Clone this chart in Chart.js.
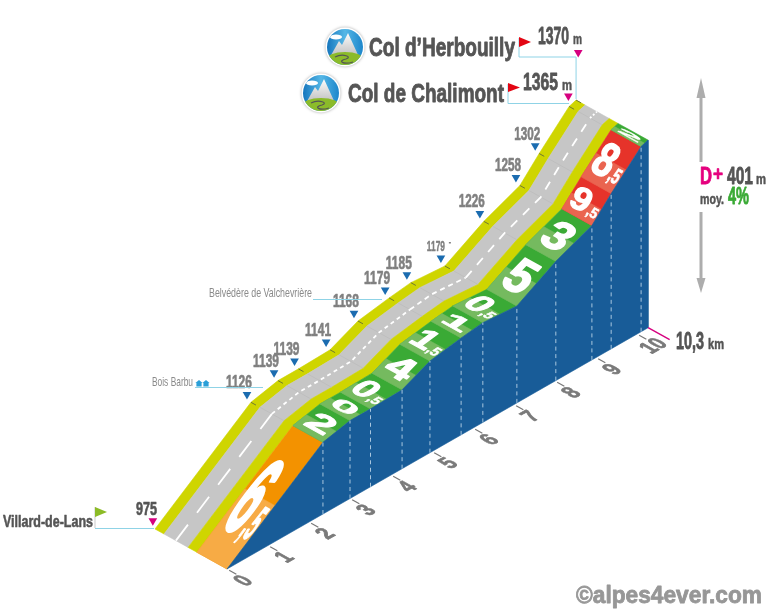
<!DOCTYPE html>
<html>
<head>
<meta charset="utf-8">
<script src="https://cdn.jsdelivr.net/npm/chart.js@4"></script>
<style>
html, body { margin: 0; padding: 0; background: #fff; }
#wrap { width: 770px; height: 616px; }
</style>
</head>
<body>
<div id="wrap"><canvas id="grafica" width="770" height="616"></canvas></div>
<script>
// profile vertices
const kms = [0, 2.34, 3, 3.5, 4.27, 4.95, 5.71, 6.24, 7.07, 8.02, 8.9, 9.37, 10.1, 10.27];
const alts = [975, 1126, 1139, 1139, 1141, 1168, 1179, 1185, 1179, 1226, 1258, 1302, 1365, 1370];
// gradient painted on each stretch, between two vertices
const slopes = ['6,5', '2', '0', '0,5', '4', '1,5', '1', '0,5', '5', '3', '9,5', '8,5', '2'];
const slopeColors = ['orange', 'green', 'green', 'green', 'green', 'green', 'green', 'green', 'green', 'green', 'red', 'red', 'green'];
const kmTicks = [0, 1, 2, 3, 4, 5, 6, 7, 8, 9, 10];

const palette = {
    orange: ['#f39200', '#f7ab45'],
    green: ['#3aaa35', '#75ba5f'],
    red: ['#e6332a', '#ea6450']
};
const BASE = 975;

// oblique projection: one km goes right and up, depth goes left and up
const PX_KM = 41, PX_M = 0.475, RISE = 0.573, DEPTH_X = 72, DEPTH_Y = 40;
const ORIGIN_X = 227, ORIGIN_Y = 569;

function pt(km, alt, depth) {
    return {
        x: km - depth * DEPTH_X / PX_KM,
        y: alt + km * RISE * PX_KM / PX_M + depth * DEPTH_Y / PX_M
    };
}

function band(d1, d2, from, to) {
    const a = [], b = [];
    for (let i = from; i <= to; i++) {
        a.push(pt(kms[i], alts[i], d1));
        b.unshift(pt(kms[i], alts[i], d2));
    }
    return a.concat(b);
}

function poly(points, color) {
    return { data: points.concat([points[0]]), showLine: true, fill: 'shape', backgroundColor: color, borderColor: color, borderWidth: 0.6, pointRadius: 0, tension: 0 };
}

function stroke(points, color, width, dash) {
    return { data: points, showLine: true, fill: false, borderColor: color, borderWidth: width, borderDash: dash || [], pointRadius: 0, tension: 0 };
}

const sets = [];
const last = kms.length - 1;

// road surface
sets.push(poly(band(0.875, 1, 0, last), '#cfd500'));
sets.push(poly(band(0.54, 0.875, 0, last), '#c6c6c6'));
sets.push(poly(band(0.417, 0.54, 0, last), '#cfd500'));
kms.forEach((k, i) => {
    if (i > 0 && i < last) sets.push(stroke([pt(k, alts[i], 0.54), pt(k, alts[i], 0.875)], '#b9b9b9', 0.6));
    if (i > 0) sets.push(stroke([pt(k, alts[i], 0.93), pt(k, alts[i], 1)], '#6f7a30', 1));
});

// centre dashes change with the stretch
const centre = kms.map((k, i) => pt(k, alts[i], 0.71));
sets.push({
    data: centre, showLine: true, fill: false, borderColor: '#fff', borderWidth: 1.8, pointRadius: 0, tension: 0,
    segment: {
        borderDash: ctx => {
            const i = ctx.p0DataIndex;
            if (i === 0) return [20, 15];
            if (i < 6) return [4, 3.5];
            if (i === 6 || i === 7) return [5, 4];
            if (i === 12) return [2, 2];
            return [9, 8];
        }
    }
});

// gradient stretches, light first part then dark part
slopes.forEach((s, i) => {
    const [dark, light] = palette[slopeColors[i]];
    sets.push(poly(band(0, 0.417, i, i + 1), dark));
    const mk = (kms[i] + kms[i + 1]) / 2, ma = (alts[i] + alts[i + 1]) / 2;
    sets.push(poly([pt(kms[i], alts[i], 0), pt(mk, ma, 0), pt(mk, ma, 0.417), pt(kms[i], alts[i], 0.417)], light));
});

// front wall
const wallTop = kms.map((k, i) => pt(k, alts[i], 0));
sets.push(poly(wallTop.concat([pt(kms[last], BASE, 0), pt(0, BASE, 0)]), '#185c98'));
kms.forEach((k, i) => {
    if (i > 0 && i < last) sets.push(stroke([pt(k, BASE, 0), pt(k, alts[i], 0)], '#a8c6de', 1, [4, 3.5]));
});

// km ticks below the wall
kmTicks.forEach(k => sets.push(stroke([pt(k, BASE, -0.03), pt(k, BASE, -0.13)], '#777', 1.2)));
sets.push(stroke([pt(kms[last], BASE, 0), pt(kms[last], BASE, -0.3)], '#d6007f', 1.4));

// spot height markers
function marker(points, color) {
    return { data: points, showLine: false, pointStyle: 'triangle', rotation: 180, pointRadius: 5, pointBackgroundColor: color, pointBorderWidth: 0 };
}
sets.push(marker([1, 2, 3, 4, 5, 6, 7, 8, 9, 10, 11].map(i => pt(kms[i], alts[i] + 12, 1.055)), '#1b6cb0'));
sets.push(marker([pt(kms[0], alts[0] + 15, 1.03), pt(kms[12], alts[12] + 21, 1.01), pt(kms[13], alts[13] + 103, 0.97)], '#d6007f'));

// drawing order follows the push order
sets.forEach((s, i) => { s.order = sets.length - i; });

function put(ctx, str, x, base, size, width, color, weight) {
    ctx.save();
    ctx.font = (weight || 'bold') + ' ' + size + 'px "Liberation Sans Narrow", "Liberation Sans", sans-serif';
    ctx.textAlign = 'left';
    ctx.textBaseline = 'alphabetic';
    ctx.fillStyle = color;
    const w = ctx.measureText(str).width;
    ctx.translate(x, base);
    ctx.scale(width / w, 1);
    ctx.fillText(str, 0, 0);
    if (weight !== 'normal') {
        // the originals are drawn in a heavier face
        ctx.strokeStyle = color;
        ctx.lineWidth = size * 0.035;
        ctx.lineJoin = 'round';
        ctx.strokeText(str, 0, 0);
    }
    ctx.restore();
}

function tri(ctx, a, b, c, color) {
    ctx.fillStyle = color;
    ctx.beginPath();
    ctx.moveTo(a[0], a[1]);
    ctx.lineTo(b[0], b[1]);
    ctx.lineTo(c[0], c[1]);
    ctx.closePath();
    ctx.fill();
}

function seg(ctx, x1, y1, x2, y2, color, w) {
    ctx.strokeStyle = color;
    ctx.lineWidth = w;
    ctx.beginPath();
    ctx.moveTo(x1, y1);
    ctx.lineTo(x2, y2);
    ctx.stroke();
}

function colIcon(ctx, cx, cy) {
    ctx.save();
    ctx.fillStyle = '#fff';
    ctx.shadowColor = 'rgba(0,0,0,0.35)';
    ctx.shadowBlur = 3;
    ctx.beginPath();
    ctx.arc(cx, cy, 19.5, 0, Math.PI * 2);
    ctx.fill();
    ctx.shadowBlur = 0;
    ctx.beginPath();
    ctx.arc(cx, cy, 18, 0, Math.PI * 2);
    ctx.clip();
    const g = ctx.createLinearGradient(cx - 18, cy, cx + 18, cy);
    g.addColorStop(0, '#1676bd');
    g.addColorStop(0.5, '#55b7e6');
    g.addColorStop(1, '#1c86cb');
    ctx.fillStyle = g;
    ctx.fillRect(cx - 18, cy - 18, 36, 36);
    const m = ctx.createLinearGradient(0, cy - 15, 0, cy + 10);
    m.addColorStop(0, '#fff');
    m.addColorStop(1, '#bdbdbd');
    ctx.fillStyle = m;
    ctx.beginPath();
    ctx.moveTo(cx - 15, cy + 10);
    ctx.lineTo(cx - 6, cy - 6);
    ctx.lineTo(cx - 3, cy - 2);
    ctx.lineTo(cx + 3, cy - 14);
    ctx.lineTo(cx + 14, cy + 10);
    ctx.closePath();
    ctx.fill();
    ctx.fillStyle = '#fff';
    ctx.beginPath();
    ctx.ellipse(cx - 9, cy - 10, 6, 2.4, 0, 0, Math.PI * 2);
    ctx.fill();
    ctx.fillStyle = '#8bbb2a';
    ctx.beginPath();
    ctx.ellipse(cx, cy + 13, 19, 8, 0, 0, Math.PI * 2);
    ctx.fill();
    ctx.strokeStyle = '#555';
    ctx.lineWidth = 1.2;
    ctx.beginPath();
    ctx.moveTo(cx - 10, cy + 10);
    ctx.bezierCurveTo(cx - 2, cy + 6, cx + 8, cy + 10, cx + 1, cy + 12);
    ctx.bezierCurveTo(cx - 8, cy + 14, cx - 2, cy + 18, cx + 8, cy + 15);
    ctx.stroke();
    ctx.restore();
}

function house(ctx, x, y) {
    ctx.fillStyle = '#2a9fd8';
    ctx.fillRect(x - 2.6, y - 1, 5.2, 3.5);
    tri(ctx, [x - 3.6, y - 1], [x, y - 4], [x + 3.6, y - 1], '#2a9fd8');
}

const artwork = {
    id: 'artwork',
    afterDatasetsDraw(chart) {
        const ctx = chart.ctx;
        const px = p => [chart.scales.x.getPixelForValue(p.x), chart.scales.y.getPixelForValue(p.y)];
        const light = '#8fd3e6', ink = '#555555', spot = '#808080';

        // painted gradient numbers: they read across the band, their tops point up the road
        slopes.forEach((s, i) => {
            const a = px(pt(kms[i], alts[i], 0.205)), b = px(pt(kms[i + 1], alts[i + 1], 0.205));
            const dx = b[0] - a[0], dy = b[1] - a[1], len = Math.hypot(dx, dy);
            const parts = s.split(',');
            const cap = len * (i === 0 ? 0.55 : 0.64);
            const big = parts[1] ? 20 : 25;
            const small = parts[1] ? 11 : 0;
            const total = big + small;
            ctx.save();
            ctx.transform(0.874, 0.486, -dx / len, -dy / len, (a[0] + b[0]) / 2, (a[1] + b[1]) / 2);
            put(ctx, parts[0], -total / 2, cap / 2, cap / 0.72, big, '#fff');
            if (parts[1]) put(ctx, ',' + parts[1], -total / 2 + big + 0.5, cap / 2, cap * 0.45 / 0.72, small, '#fff');
            ctx.restore();
        });

        // km numbers on the ground
        kmTicks.forEach(k => {
            const p = px(pt(k, BASE, 0));
            const w = k === 10 ? 20 : 10;
            ctx.save();
            ctx.transform(0.874, -0.486, 0.874, 0.486, p[0] + 16, p[1] + 11.5);
            put(ctx, String(k), -w / 2, 8, 24, w, '#7a7a7a');
            ctx.restore();
        });

        // spot heights above the back edge
        alts.forEach((a, i) => {
            if (i === 0 || i >= 12) return;
            const p = px(pt(kms[i], a, 1));
            if (i === 8) {
                put(ctx, String(a), p[0] - 18, p[1] - 15, 14, 18, spot);
                ctx.fillStyle = spot;
                ctx.fillRect(p[0] + 4, p[1] - 24, 2, 1.5);
            } else {
                put(ctx, String(a), p[0] - 25, p[1] - 14, 19, 26, spot);
            }
        });
        const start = px(pt(0, alts[0], 1));
        put(ctx, String(alts[0]), 136, 515, 19, 21, ink);

        // start label
        put(ctx, 'Villard-de-Lans', 3, 527, 16, 90, ink);
        seg(ctx, 95, 507, 95, 528, '#bbb', 0.8);
        tri(ctx, [95, 507], [107, 512], [95, 517], '#8cbb26');
        seg(ctx, 95, 528.5, start[0] - 1, 528.5, light, 1);

        // col labels with their flags
        const end = px(pt(kms[13], alts[13], 1)), end2 = px(pt(kms[12], alts[12], 1));
        seg(ctx, 519, 38, 519, 57, light, 1);
        seg(ctx, 519, 57, end[0], 57, light, 1);
        seg(ctx, end[0], 57, end[0], end[1] - 1, light, 1);
        seg(ctx, 508, 84, 508, 103.5, light, 1);
        seg(ctx, 508, 103.5, end2[0], 103.5, light, 1);
        tri(ctx, [519, 37], [531, 42], [519, 47], '#e30613');
        tri(ctx, [508, 83], [520, 87.5], [508, 92], '#e30613');
        colIcon(ctx, 345, 47);
        colIcon(ctx, 321, 93);
        put(ctx, 'Col d\u2019Herbouilly', 369, 56, 25, 146, ink);
        put(ctx, 'Col de Chalimont', 348, 102, 25, 156, ink);
        put(ctx, String(alts[13]), 538, 44, 24, 31, ink);
        put(ctx, 'm', 573, 44, 14, 9, ink);
        put(ctx, String(alts[12]), 523, 90, 24, 35, ink);
        put(ctx, 'm', 562, 90, 14, 10, ink);

        // place names
        put(ctx, 'Bois Barbu', 152, 386, 13, 41, '#8a8a8a', 'normal');
        house(ctx, 199, 384);
        house(ctx, 206, 384);
        seg(ctx, 195, 387.5, 263, 387.5, light, 1);
        put(ctx, 'Belv\u00e9d\u00e8re de Valchevri\u00e8re', 209, 297, 13, 103, '#8a8a8a', 'normal');
        seg(ctx, 313, 299.5, 382, 299.5, light, 1);

        // height gain arrows
        seg(ctx, 701, 90, 701, 162, '#adadad', 3);
        seg(ctx, 701, 212, 701, 282, '#adadad', 3);
        tri(ctx, [701, 78], [705.5, 98], [696.5, 98], '#adadad');
        tri(ctx, [701, 293], [705.5, 278], [696.5, 278], '#adadad');
        put(ctx, 'D', 700, 184, 24, 12, '#e5007e');
        put(ctx, '+', 713, 181, 20, 10, '#e5007e');
        put(ctx, '401', 727, 184, 24, 26, ink);
        put(ctx, 'm', 756, 184, 14, 10, ink);
        put(ctx, 'moy.', 700, 204, 15, 24, ink);
        put(ctx, '4%', 728, 204, 24, 21, '#3aaa35');

        // length
        put(ctx, '10,3', 676, 349, 24, 28, ink);
        put(ctx, 'km', 708, 349, 15, 16, ink);

        // signature
        put(ctx, '\u00a9alpes4ever.com', 576, 603, 24, 186, '#979797');
    }
};

const xMin = -ORIGIN_X / PX_KM, xMax = (770 - ORIGIN_X) / PX_KM;
const yMax = BASE + ORIGIN_Y / PX_M, yMin = BASE - (616 - ORIGIN_Y) / PX_M;

new Chart(document.querySelector('#grafica'), {
    type: 'scatter',
    data: { datasets: sets },
    options: {
        responsive: false,
        animation: false,
        layout: { padding: 0, autoPadding: false },
        plugins: { legend: { display: false }, tooltip: { enabled: false } },
        scales: {
            x: { type: 'linear', display: false, min: xMin, max: xMax },
            y: { type: 'linear', display: false, min: yMin, max: yMax }
        }
    },
    plugins: [artwork]
});
</script>
</body>
</html>
